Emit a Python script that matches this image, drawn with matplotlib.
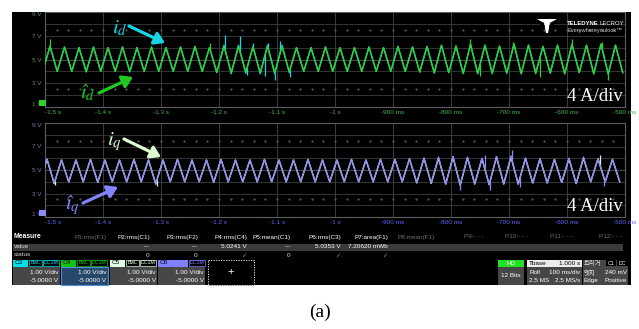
import numpy as np
import matplotlib
matplotlib.use("Agg")
import matplotlib.pyplot as plt
from matplotlib.patches import Rectangle, Polygon

# ------------------------------------------------------------------ data
time_ticks = [-1.5, -1.4, -1.3, -1.2, -1.1, -1.0, -0.9, -0.8, -0.7, -0.6, -0.5]
time_labels = ["-1.5 s", "-1.4 s", "-1.3 s", "-1.2 s", "-1.1 s", "-1 s",
               "-900 ms", "-800 ms", "-700 ms", "-600 ms", "-500 ms"]
volt_ticks = [9, 7, 5, 3, 1]
volt_labels = ["9 V", "7 V", "5 V", "3 V", "1 V"]

period = 0.025            # s, spacing of peaks
d_first_peak = -1.4914    # s, first peak of the d-axis traces
q_first_peak = -1.4966    # s, first peak of the q-axis traces

# d-axis current, measured (cyan, C3) - peak / trough voltages per cycle
id_peaks = [6.1, 6.05, 6.0, 6.05, 6.0, 6.05, 6.0, 6.05, 6.0, 6.05,
            6.1, 6.0, 6.2, 6.2, 6.1, 6.2, 6.2, 6.0, 6.0, 6.05,
            6.0, 6.0, 6.05, 6.0, 6.1, 6.05, 6.1, 6.2, 6.1, 6.25,
            6.2, 6.1, 6.3, 6.2, 6.1, 6.2, 6.25, 6.2, 6.3, 6.2]
id_troughs = [4.0, 4.0, 4.0, 3.95, 4.0, 4.0, 3.95, 4.0, 4.0, 4.0,
              4.0, 4.0, 3.9, 3.8, 3.85, 3.8, 3.8, 3.9, 4.0, 4.0,
              4.0, 4.0, 4.0, 4.0, 4.0, 4.0, 3.95, 3.9, 3.9, 3.85,
              3.8, 3.9, 3.85, 3.8, 3.9, 3.85, 3.8, 3.9, 3.8, 3.8, 3.9]
# d-axis current, estimated (green, C4)
idhat_peaks = [6.15, 6.05, 6.0, 6.05, 6.0, 6.05, 6.0, 6.05, 6.0, 6.05,
               6.1, 6.0, 6.1, 6.1, 6.05, 6.1, 6.1, 6.0, 6.0, 6.05,
               6.0, 6.0, 6.05, 6.0, 6.1, 6.05, 6.1, 6.2, 6.15, 6.3,
               6.2, 6.15, 6.3, 6.2, 6.1, 6.2, 6.3, 6.2, 6.3, 6.2]
idhat_troughs = [4.0, 4.0, 4.0, 4.0, 4.0, 4.0, 4.0, 4.0, 4.0, 4.0,
                 4.0, 4.0, 3.95, 3.9, 3.95, 3.9, 3.9, 4.0, 4.0, 4.0,
                 4.0, 4.0, 4.0, 4.0, 4.0, 4.0, 3.95, 3.85, 3.9, 3.8,
                 3.85, 3.8, 3.85, 3.8, 3.8, 3.85, 3.8, 3.9, 3.8, 3.75, 3.9]
# isolated noise spikes (time in s, tip voltage)
id_spike_t = [-1.1897, -1.1638, -1.1414, -1.1155, -1.0948,
              -1.1517, -1.1034, -1.0776, -1.1207]
id_spike_v = [7.1, 7.0, 6.4, 6.4, 6.6, 3.7, 3.3, 3.5, 3.6]
idhat_spike_t = [-1.4914, -0.7672, -0.6931, -0.5914, -0.5397, -0.5293,
                 -0.6466, -0.7500, -1.2150]
idhat_spike_v = [6.7, 6.7, 6.45, 6.7, 6.5, 3.3, 3.5, 3.6, 6.35]

# q-axis current, measured (pale, C5)
iq_peaks = [5.9, 5.85, 5.85, 5.9, 5.85, 5.85, 5.9, 5.85, 5.85, 5.9,
            5.85, 5.85, 5.9, 5.85, 5.85, 5.9, 5.85, 5.85, 5.9, 5.85,
            5.85, 5.9, 5.85, 5.9, 5.9, 5.95, 6.0, 6.0, 6.1, 6.05,
            5.95, 6.1, 6.1, 6.0, 5.95, 5.9, 5.95, 6.0, 5.95, 5.9]
iq_troughs = [4.0, 3.85, 4.0, 4.0, 3.95, 4.0, 4.0, 4.0, 3.8, 4.0,
              4.0, 4.0, 3.95, 4.0, 4.0, 4.0, 4.0, 4.0, 4.0, 4.0,
              4.0, 4.0, 4.0, 4.0, 4.0, 4.0, 3.9, 3.85, 3.8, 3.7,
              3.8, 3.75, 3.8, 3.8, 3.9, 3.9, 3.95, 3.85, 4.0, 4.0, 4.0]
# q-axis current, estimated (purple, C6)
iqhat_peaks = [5.95, 5.85, 5.85, 5.9, 5.85, 5.85, 5.9, 5.85, 5.85, 5.9,
               5.85, 5.85, 5.9, 5.85, 5.85, 5.9, 5.85, 5.85, 5.9, 5.85,
               5.85, 5.9, 5.85, 5.9, 5.9, 5.95, 6.0, 6.1, 6.15, 6.1,
               6.0, 6.15, 6.2, 6.0, 5.95, 5.9, 6.0, 6.1, 5.95, 5.9]
iqhat_troughs = [4.0, 3.9, 4.0, 4.0, 4.0, 4.0, 4.0, 4.0, 3.85, 4.0,
                 4.0, 4.0, 4.0, 4.0, 4.0, 4.0, 4.0, 4.0, 4.0, 4.0,
                 4.0, 4.0, 4.0, 4.0, 4.0, 4.0, 3.95, 3.9, 3.8, 3.75,
                 3.85, 3.75, 3.85, 3.8, 3.9, 3.9, 3.95, 3.85, 4.0, 4.0, 4.0]
iq_spike_t = [-1.4828, -1.3069, -0.5431]
iq_spike_v = [3.75, 3.65, 6.3]
iqhat_spike_t = [-0.6948, -0.7845, -0.7328, -0.6810, -0.7966, -0.5362, -0.7414]
iqhat_spike_v = [6.7, 3.3, 3.3, 3.55, 6.2, 3.6, 6.25]

measure_headers = ["P1:rms(F1)", "P2:rms(C1)", "P3:rms(F2)", "P4:rms(C4)",
                   "P5:mean(C1)", "P6:rms(C3)", "P7:area(F1)", "P8:mean(F1)",
                   "P9:- - -", "P10:- - -", "P11:- - -", "P12:- - -"]
measure_active = [False, True, True, True, True, True, True,
                  False, False, False, False, False]
measure_values = ["", "---", "---", "5.0241 V", "---", "5.0353 V",
                  "7.20620 mWb", "", "", "", "", ""]
measure_status = ["", "0", "0", "\u2713", "0", "\u2713", "\u2713",
                  "", "", "", "", ""]

channels = ["C3", "C4", "C5", "C6"]
channel_vdiv = ["1.00 V/div"] * 4
channel_offset = ["-5.0000 V"] * 4

# ------------------------------------------------------------------ style
W, H = 639, 329
C_CYAN = "#18d4e4"
C_GREEN = "#2fd02f"
C_PALE = "#dcf5d4"
C_PURPLE = "#8c8cf6"
GRID = "#3c3c3c"
FRAME = "#5e5e5e"

plt.rcParams["font.family"] = ["Liberation Sans", "Noto Sans CJK KR", "DejaVu Sans"]
plt.rcParams["mathtext.fontset"] = "stix"

fig = plt.figure(figsize=(W / 100, H / 100), dpi=100, facecolor="white")

# pixel-coordinate background layer
bg = fig.add_axes([0, 0, 1, 1], zorder=0)
bg.set_xlim(0, W)
bg.set_ylim(H, 0)
bg.axis("off")
bg.add_patch(Rectangle((12, 12), 619, 273, facecolor="black", edgecolor="none"))


def build_trace(first_peak, peaks, troughs):
    tp = first_peak + period * np.arange(len(peaks))
    tt = first_peak - period / 2 + period * np.arange(len(troughs))
    t = np.empty(len(tp) + len(tt))
    v = np.empty_like(t)
    t[0::2], v[0::2] = tt, troughs
    t[1::2], v[1::2] = tp, peaks
    return t, v


def draw_trace(ax, first_peak, peaks, troughs, sp_t, sp_v, color, z):
    t, v = build_trace(first_peak, peaks, troughs)
    ax.plot(t, v, color=color, lw=1.0, zorder=z)
    base = np.interp(sp_t, t, v)
    ax.vlines(sp_t, base, sp_v, color=color, lw=0.9, zorder=z)


def scope_axes(rect, tick_color, vlabel_color, marker_color):
    ax = fig.add_axes(rect, zorder=2)
    ax.set_facecolor("black")
    ax.set_xlim(-1.5, -0.5)
    ax.set_ylim(1, 9)
    for s in ax.spines.values():
        s.set_color(FRAME)
        s.set_linewidth(0.8)
    ax.set_xticks(time_ticks)
    ax.set_xticklabels(time_labels)
    ax.tick_params(axis="x", length=0, pad=2.2, labelsize=4.6, labelcolor=tick_color)
    labs = ax.get_xticklabels()
    labs[0].set_ha("left")
    ax.set_yticks(volt_ticks)
    ax.set_yticklabels(volt_labels)
    ax.tick_params(axis="y", length=0, pad=2.5, labelsize=4.6, labelcolor=vlabel_color)
    ylabs = ax.get_yticklabels()
    ylabs[0].set_va("top")
    ylabs[-1].set_va("bottom")
    for x in time_ticks[1:-1]:
        ax.axvline(x, color=GRID, lw=0.7, zorder=0)
    for y in [2, 3, 4, 6, 7, 8]:
        ax.axhline(y, color=GRID, lw=0.6, zorder=0)
    ax.axhline(5, color="#4a4a4a", lw=0.7, zorder=0)
    sub = np.arange(-1.5, -0.5, 0.02)
    for y in [2.5, 7.5]:
        ax.plot(sub, np.full_like(sub, y), ls="none", marker="s", ms=0.6,
                color="#555555", zorder=0)
    # channel ground marker
    ax.add_patch(Rectangle((-0.011, 0.015), 0.012, 0.06, transform=ax.transAxes,
                           facecolor=marker_color, edgecolor="none",
                           clip_on=False, zorder=5))
    return ax


ax1 = scope_axes([45 / W, 1 - 107 / H, 580 / W, 95 / H], "#3cb84a", "#5f8f5f", C_GREEN)
ax2 = scope_axes([45 / W, 1 - 217 / H, 580 / W, 94 / H], "#6464ff", "#7a7aa8", C_PURPLE)

draw_trace(ax1, d_first_peak, id_peaks, id_troughs, id_spike_t, id_spike_v, C_CYAN, 3)
draw_trace(ax1, d_first_peak, idhat_peaks, idhat_troughs, idhat_spike_t, idhat_spike_v,
           C_GREEN, 4)
draw_trace(ax2, q_first_peak, iq_peaks, iq_troughs, iq_spike_t, iq_spike_v, C_PALE, 3)
draw_trace(ax2, q_first_peak, iqhat_peaks, iqhat_troughs, iqhat_spike_t, iqhat_spike_v,
           C_PURPLE, 4)

# ------------------------------------------------------------------ overlay annotations
ov = fig.add_axes([0, 0, 1, 1], zorder=10)
ov.set_xlim(0, W)
ov.set_ylim(H, 0)
ov.axis("off")
ov.patch.set_alpha(0)


def label_arrow(txt, color, txy, a0, a1, size=15):
    ov.text(txy[0], txy[1], txt, color=color, fontsize=size, ha="center", va="center")
    ov.annotate("", xy=a1, xytext=a0,
                arrowprops=dict(arrowstyle="-|>,head_length=0.5,head_width=0.32",
                                color=color, lw=2.3, mutation_scale=12,
                                shrinkA=0, shrinkB=0))


label_arrow(r"$i_d$", C_CYAN, (120, 28), (129, 26), (165, 43))
label_arrow("$\\mathit{\u00ee}_d$", "#22c822", (88, 93), (99, 93), (133, 77))
label_arrow(r"$i_q$", "#dcfcd0", (114, 142), (124, 139), (161, 157))
label_arrow("$\\mathit{\u00ee}_q$", "#8484ff", (72, 205), (83, 203), (118, 187))

ov.text(623, 101, "4 A/div", color="white", fontsize=13.5,
        family="Liberation Serif", ha="right", va="baseline")
ov.text(623, 211, "4 A/div", color="white", fontsize=13.5,
        family="Liberation Serif", ha="right", va="baseline")

# logo
ov.add_patch(Polygon([(537, 19), (557, 19), (550, 23), (548, 33), (546, 33), (544, 23)],
                     closed=True, facecolor="white", edgecolor="none"))
ov.add_patch(Polygon([(539, 22), (543, 22), (545, 27), (541, 27)], closed=True,
                     facecolor="black", edgecolor="none"))
ov.add_patch(Polygon([(555, 22), (551, 22), (549, 27), (553, 27)], closed=True,
                     facecolor="black", edgecolor="none"))
ov.text(567, 23.5, "TELEDYNE", color="white", fontsize=4.3, fontweight="bold",
        ha="left", va="center")
ov.text(624, 23.5, "LECROY", color="white", fontsize=4.3, ha="right", va="center")
ov.text(567, 30, "Everywhereyoulook\u2122", color="#d0d0d0", fontsize=4.1,
        ha="left", va="center")

# ------------------------------------------------------------------ measurement table
FS = 4.6
bg.add_patch(Rectangle((13, 243.5), 610, 7.5, facecolor="#3a3a3a", edgecolor="none"))
bg.text(14, 237, "Measure", color="white", fontsize=FS + 0.3, fontweight="bold",
        ha="left", va="center")
bg.text(14, 247, "value", color="#d8d8d8", fontsize=FS, ha="left", va="center")
bg.text(14, 255, "status", color="#d8d8d8", fontsize=FS, ha="left", va="center")
col_right = [107, 150, 198, 247, 291, 341, 388, 435, 483, 528, 573, 622]
for xr, hd, act, val, st in zip(col_right, measure_headers, measure_active,
                                measure_values, measure_status):
    bg.text(xr, 237, hd, color="white" if act else "#6e6e6e", fontsize=FS,
            ha="right", va="center")
    if val:
        bg.text(xr, 247, val, color="white", fontsize=FS, ha="right", va="center")
    if st:
        col = "#3cc83c" if st == "\u2713" else "#d8d8d8"
        bg.text(xr - 1, 255.5, st, color=col, fontsize=FS, ha="right", va="center",
                family=["DejaVu Sans"] if st == "\u2713" else None)

# channel descriptor boxes
ch_x = [13, 61, 110, 158]
ch_col = ["#00e0e8", "#12c412", "#e2fde2", "#8080ff"]
ch_badge = [True, True, True, False]
ch_body = ["#474747", "#27486a", "#474747", "#474747"]
for x0, name, col, bwl, body, vd, off in zip(ch_x, channels, ch_col, ch_badge, ch_body,
                                              channel_vdiv, channel_offset):
    w = 47
    bg.add_patch(Rectangle((x0, 266.5), w, 18.5, facecolor=body,
                           edgecolor="#4c8fd6" if name == "C4" else "none", lw=0.8))
    hw = 15 if bwl else 30
    bg.add_patch(Rectangle((x0, 259.5), hw, 7, facecolor=col, edgecolor="none"))
    bg.text(x0 + 1.5, 263, name, color="black", fontsize=FS, ha="left", va="center")
    if bwl:
        bg.add_patch(Rectangle((x0 + 16, 260), 13, 6, facecolor="black",
                               edgecolor=col, lw=0.5))
        bg.text(x0 + 22.5, 263, "BwL", color=col, fontsize=3.8, ha="center", va="center")
        bx = x0 + 30
    else:
        bx = x0 + 30.5
    bg.add_patch(Rectangle((bx, 260), 16, 6, facecolor="black", edgecolor=col, lw=0.5))
    bg.text(bx + 8, 263, "DC1M", color=col, fontsize=3.8, ha="center", va="center")
    bg.text(x0 + w - 1.5, 273, vd, color="white", fontsize=FS, ha="right", va="center")
    bg.text(x0 + w - 1.5, 280.5, off, color="white", fontsize=FS, ha="right", va="center")

bg.add_patch(Rectangle((207.5, 259.5), 46, 25, facecolor="black", edgecolor="white",
                       lw=0.6, ls=(0, (1.5, 1.5))))
bg.text(230.5, 272, "+", color="white", fontsize=8, ha="center", va="center")

# acquisition / timebase / trigger boxes
bg.add_patch(Rectangle((498, 259.5), 26, 7.5, facecolor="#22e022", edgecolor="none"))
bg.text(511, 263.2, "HD", color="white", fontsize=FS, ha="center", va="center")
bg.add_patch(Rectangle((498, 267), 26, 18, facecolor="#474747", edgecolor="none"))
bg.text(511, 275.5, "12 Bits", color="white", fontsize=FS, ha="center", va="center")

bg.add_patch(Rectangle((527, 259.5), 55, 7.5, facecolor="#ececec", edgecolor="none"))
bg.text(529, 263.2, "Tbase", color="black", fontsize=FS, ha="left", va="center")
bg.text(580, 263.2, "1.000 s", color="black", fontsize=FS, ha="right", va="center")
bg.add_patch(Rectangle((527, 267), 55, 18, facecolor="#474747", edgecolor="none"))
bg.text(529, 272.5, "Roll", color="white", fontsize=FS, ha="left", va="center")
bg.text(580, 272.5, "100 ms/div", color="white", fontsize=FS, ha="right", va="center")
bg.text(529, 280.5, "2.5 MS", color="white", fontsize=FS, ha="left", va="center")
bg.text(580, 280.5, "2.5 MS/s", color="white", fontsize=FS, ha="right", va="center")

bg.add_patch(Rectangle((583, 259.5), 45, 25.5, facecolor="#474747", edgecolor="none"))
bg.text(584, 263.2, "트리거", color="#e8e8e8", fontsize=FS, ha="left", va="center")
bg.add_patch(Rectangle((606, 260), 10, 6, facecolor="black", edgecolor="none"))
bg.text(611, 263.2, "C1", color="white", fontsize=3.8, ha="center", va="center")
bg.add_patch(Rectangle((617, 260), 11, 6, facecolor="black", edgecolor="none"))
bg.text(622.5, 263.2, "DC", color="white", fontsize=3.8, ha="center", va="center")
bg.text(584, 272.5, "엣지", color="white", fontsize=FS, ha="left", va="center")
bg.text(627, 272.5, "240 mV", color="white", fontsize=FS, ha="right", va="center")
bg.text(584, 280.5, "Edge", color="white", fontsize=FS, ha="left", va="center")
bg.text(627, 280.5, "Positive", color="white", fontsize=FS, ha="right", va="center")

# caption
bg.text(320, 312, "(a)", color="black", fontsize=14, family="Liberation Serif",
        ha="center", va="center")

fig.savefig("out.png", dpi=100, facecolor="white")
